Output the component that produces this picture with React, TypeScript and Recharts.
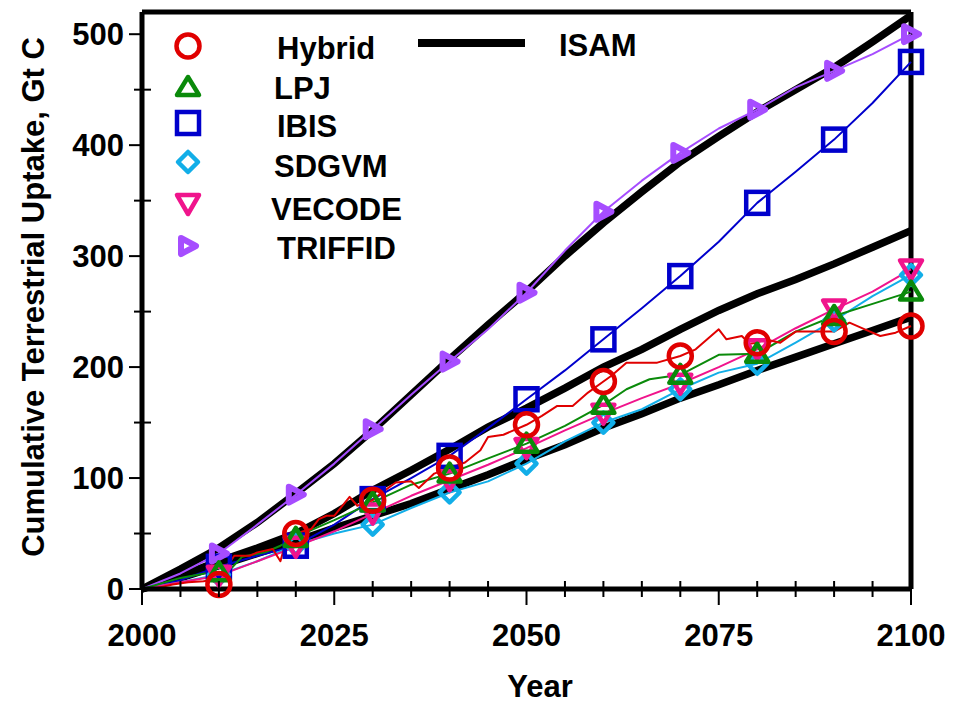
import { LineChart, Line, XAxis, YAxis, ReferenceLine, Legend } from 'recharts'

const FONT = '"Liberation Sans", Arial, Helvetica, sans-serif'

// 5-year grid for the smooth series
const years5 = [
  2000, 2005, 2010, 2015, 2020, 2025, 2030, 2035, 2040, 2045, 2050,
  2055, 2060, 2065, 2070, 2075, 2080, 2085, 2090, 2095, 2100,
]

const isamHigh = [0, 18, 37, 60, 86, 113, 143, 175, 207, 238, 268, 300, 330, 358, 385, 408, 430, 450, 470, 493, 517]
const isamMid = [0, 12, 25, 37, 50, 68, 89, 107, 126, 146, 163, 181, 200, 216, 234, 251, 266, 279, 293, 308, 323]
const isamLow = [0, 10, 21, 32, 43, 55, 66, 77, 90, 103, 117, 130, 145, 158, 172, 184, 197, 209, 221, 233, 245]
const triffid = [0, 14, 32, 58, 85, 113, 144, 175, 205, 234, 267, 305, 340, 368, 393, 415, 432, 452, 467, 482, 500]
const ibis = [0, 8, 20, 30, 39, 58, 81, 100, 120, 145, 171, 197, 225, 253, 282, 313, 348, 376, 405, 438, 475]
const sdgvm = [0, 6, 13, 25, 40, 50, 58, 73, 87, 97, 113, 133, 150, 162, 180, 195, 203, 222, 242, 264, 283]
const vecode = [0, 6, 12, 25, 38, 52, 68, 84, 98, 112, 127, 143, 158, 172, 185, 200, 216, 235, 252, 268, 288]

// LPJ, irregular sampling
const lpjYears = [
  2000, 2005, 2009, 2010, 2011, 2013, 2016, 2018, 2020, 2022, 2025, 2030, 2035, 2040,
  2044, 2050, 2055, 2060, 2063, 2066, 2070, 2075, 2080, 2085, 2090, 2095, 2100,
]
const lpjValues = [
  0, 10, 15, 15, 14, 29, 33, 39, 46, 53, 62, 78, 94, 104,
  115, 131, 147, 166, 180, 189, 193, 211, 212, 232, 246, 257, 268,
]

// Hybrid is jagged, read at a finer step
const hybridYears = [
  2002, 2004, 2006, 2008, 2009, 2010, 2011, 2012, 2014, 2015,
  2017, 2018, 2019, 2020, 2022, 2023, 2024, 2025, 2027, 2028,
  2030, 2031, 2033, 2035, 2036, 2038, 2040, 2042, 2044, 2045,
  2047, 2050, 2052, 2054, 2056, 2058, 2060, 2061, 2063, 2065,
  2067, 2070, 2072, 2075, 2076, 2078, 2079, 2080, 2081, 2083,
  2085, 2088, 2090, 2092, 2094, 2096, 2098, 2100,
]
const hybridValues = [
  1, 4, 6, 7, 8, 4, 20, 30, 30, 33,
  36, 25, 50, 50, 54, 63, 66, 66, 83, 75,
  80, 86, 96, 97, 91, 104, 109, 114, 125, 137,
  139, 148, 156, 165, 165, 177, 187, 192, 204, 204,
  204, 210, 216, 234, 225, 228, 221, 222, 225, 222,
  232, 232, 232, 240, 234, 228, 231, 237,
]

const xTicks = [
  2000, 2005, 2010, 2015, 2020, 2025, 2030, 2035, 2040, 2045, 2050,
  2055, 2060, 2065, 2070, 2075, 2080, 2085, 2090, 2095, 2100,
]
const yTicks = [0, 50, 100, 150, 200, 250, 300, 350, 400, 450, 500]

const zip = (xs: number[], vs: number[]) => xs.map((year, i) => ({ year, v: vs[i] }))

type Shape = 'circle' | 'triUp' | 'square' | 'diamond' | 'triDown' | 'triRight'

const models: { name: string; color: string; shape: Shape; data: { year: number; v: number }[] }[] = [
  { name: 'IBIS', color: '#0000cc', shape: 'square', data: zip(years5, ibis) },
  { name: 'TRIFFID', color: '#a64dff', shape: 'triRight', data: zip(years5, triffid) },
  { name: 'SDGVM', color: '#12aee8', shape: 'diamond', data: zip(years5, sdgvm) },
  { name: 'VECODE', color: '#f0148c', shape: 'triDown', data: zip(years5, vecode) },
  { name: 'LPJ', color: '#0a8a0a', shape: 'triUp', data: zip(lpjYears, lpjValues) },
  { name: 'Hybrid', color: '#e00000', shape: 'circle', data: zip(hybridYears, hybridValues) },
]

const legendOrder = ['Hybrid', 'LPJ', 'IBIS', 'SDGVM', 'VECODE', 'TRIFFID']
const legendMarkerY = [46, 87, 123, 162, 204, 246]
const legendTextY = [48, 88, 126, 166, 209, 248]
const legendTextX = [277, 274, 277, 274, 271, 277]

function Marker({ shape, x, y, color }: { shape: Shape; x: number; y: number; color: string }) {
  const common = { fill: 'none', stroke: color, strokeWidth: 4.5, strokeLinejoin: 'round' as const }
  switch (shape) {
    case 'circle':
      return <circle cx={x} cy={y} r={11.5} {...common} />
    case 'triUp':
      return <polygon points={`${x},${y - 10} ${x + 11},${y + 8} ${x - 11},${y + 8}`} {...common} />
    case 'square':
      return <rect x={x - 11} y={y - 11} width={22} height={22} {...common} strokeLinejoin="miter" />
    case 'diamond':
      return <polygon points={`${x},${y - 10} ${x + 10},${y} ${x},${y + 10} ${x - 10},${y}`} {...common} />
    case 'triDown':
      return <polygon points={`${x - 11},${y - 9} ${x + 11},${y - 9} ${x},${y + 10}`} {...common} />
    default:
      return <polygon points={`${x - 7},${y - 8} ${x + 8},${y} ${x - 7},${y + 8}`} {...common} strokeWidth={6} />
  }
}

const decadeDot = (shape: Shape, color: string, name: string) => (props: any) => {
  const { cx, cy, payload } = props
  const key = `${name}-${payload.year}`
  if (payload.year % 10 !== 0 || payload.year === 2000) return <g key={key} />
  return (
    <g key={key}>
      <Marker shape={shape} x={cx} y={cy} color={color} />
    </g>
  )
}

function XTick(props: any) {
  const { x, y, payload } = props
  const major = payload.value % 25 === 0
  return (
    <g>
      {major ? (
        <line x1={x} x2={x} y1={y} y2={y + 16} stroke="#000" strokeWidth={2} />
      ) : (
        <line x1={x} x2={x} y1={y - 8} y2={y + 8} stroke="#000" strokeWidth={2} />
      )}
      {major && (
        <text x={x} y={y + 57} textAnchor="middle" fontFamily={FONT} fontWeight="bold" fontSize={31} fill="#000">
          {payload.value}
        </text>
      )}
    </g>
  )
}

function YTick(props: any) {
  const { x, y, payload } = props
  const major = payload.value % 100 === 0
  return (
    <g>
      {major ? (
        <line x1={x - 13} x2={x} y1={y} y2={y} stroke="#000" strokeWidth={2} />
      ) : (
        <line x1={x - 8} x2={x + 9} y1={y} y2={y} stroke="#000" strokeWidth={2} />
      )}
      {major && (
        <text x={x - 18} y={y + 11} textAnchor="end" fontFamily={FONT} fontWeight="bold" fontSize={31} fill="#000">
          {payload.value}
        </text>
      )}
    </g>
  )
}

const YTitle = () => (
  <text
    transform="translate(44,297) rotate(-90)"
    textAnchor="middle"
    fontFamily={FONT}
    fontWeight="bold"
    fontSize={31}
    fill="#000"
  >
    Cumulative Terrestrial Uptake, Gt C
  </text>
)

const XTitle = () => (
  <text x={540} y={697} textAnchor="middle" fontFamily={FONT} fontWeight="bold" fontSize={31} fill="#000">
    Year
  </text>
)

function LegendBox() {
  return (
    <svg width={953} height={706} style={{ position: 'absolute', left: 0, top: 0 }}>
      {legendOrder.map((name, i) => {
        const m = models.find(s => s.name === name)!
        return (
          <g key={name}>
            <Marker shape={m.shape} x={188} y={legendMarkerY[i]} color={m.color} />
            <text
              x={legendTextX[i]}
              y={legendTextY[i] + 11}
              fontFamily={FONT}
              fontWeight="bold"
              fontSize={31}
              fill="#000"
            >
              {name}
            </text>
          </g>
        )
      })}
      <line x1={418} x2={525} y1={43} y2={43} stroke="#000" strokeWidth={8} />
      <text x={559} y={56} fontFamily={FONT} fontWeight="bold" fontSize={31} fill="#000">
        ISAM
      </text>
    </svg>
  )
}

export default function App() {
  return (
    <div style={{ position: 'absolute', left: 0, top: 0, width: 953, height: 706, background: '#fff' }}>
      <LineChart width={953} height={706} margin={{ top: 12, right: 42, bottom: 87, left: 82 }}>
        <XAxis
          dataKey="year"
          type="number"
          domain={[2000, 2100]}
          ticks={xTicks}
          interval={0}
          height={30}
          tickSize={0}
          tickMargin={0}
          tickLine={false}
          axisLine={{ stroke: '#000', strokeWidth: 5 }}
          tick={<XTick />}
          label={<XTitle />}
        />
        <YAxis
          type="number"
          domain={[0, 520]}
          ticks={yTicks}
          interval={0}
          width={60}
          tickSize={0}
          tickMargin={0}
          tickLine={false}
          axisLine={{ stroke: '#000', strokeWidth: 5 }}
          tick={<YTick />}
          label={<YTitle />}
        />
        <ReferenceLine y={520} stroke="#000" strokeWidth={5} />
        <ReferenceLine x={2100} stroke="#000" strokeWidth={5} />
        <Line data={zip(years5, isamHigh)} dataKey="v" name="ISAM" stroke="#000" strokeWidth={7.5} dot={false} isAnimationActive={false} />
        <Line data={zip(years5, isamMid)} dataKey="v" name="ISAM mid" legendType="none" stroke="#000" strokeWidth={7.5} dot={false} isAnimationActive={false} />
        <Line data={zip(years5, isamLow)} dataKey="v" name="ISAM low" legendType="none" stroke="#000" strokeWidth={7.5} dot={false} isAnimationActive={false} />
        {models.map(m => (
          <Line
            key={m.name}
            data={m.data}
            dataKey="v"
            name={m.name}
            stroke={m.color}
            strokeWidth={2}
            strokeLinejoin="round"
            dot={decadeDot(m.shape, m.color, m.name)}
            activeDot={false}
            isAnimationActive={false}
          />
        ))}
        <Legend
          layout="horizontal"
          align="center"
          verticalAlign="middle"
          wrapperStyle={{ left: 0, top: 0, width: 953, height: 706, pointerEvents: 'none' }}
          content={() => <LegendBox />}
        />
      </LineChart>
    </div>
  )
}
